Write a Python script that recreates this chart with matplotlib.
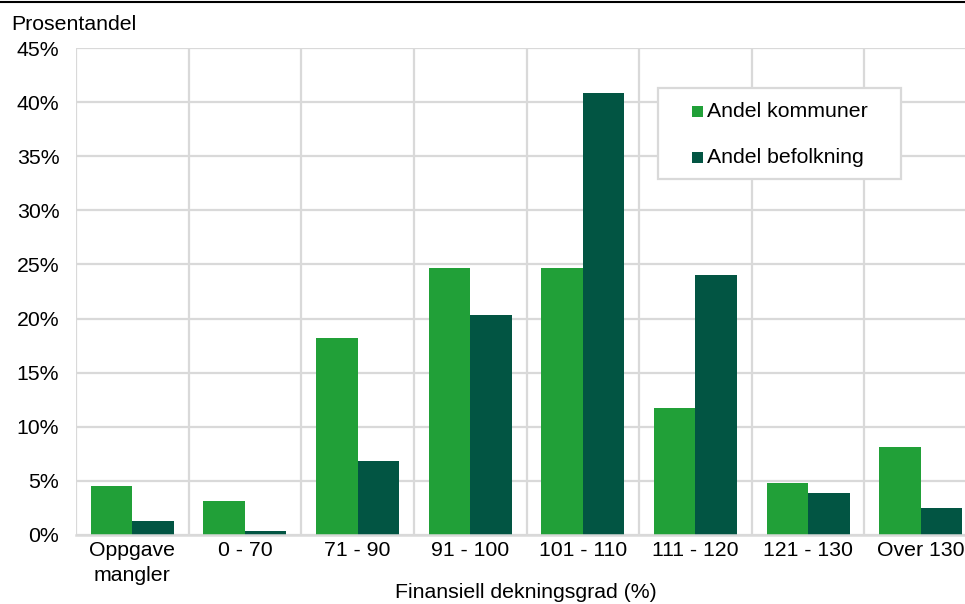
import matplotlib
matplotlib.use("Agg")
import matplotlib.pyplot as plt
from matplotlib.patches import Rectangle
from matplotlib.lines import Line2D
import numpy as np

plt.rcParams['font.family'] = ['Liberation Sans', 'DejaVu Sans']

categories = ["Oppgave\nmangler", "0 - 70", "71 - 90", "91 - 100", "101 - 110",
              "111 - 120", "121 - 130", "Over 130"]
andel_kommuner = [4.5, 3.1, 18.2, 24.7, 24.7, 11.7, 4.8, 8.1]
andel_befolkning = [1.27, 0.4, 6.8, 20.3, 40.8, 24.0, 3.85, 2.5]
series_labels = ["Andel kommuner", "Andel befolkning"]
yticks = [0, 5, 10, 15, 20, 25, 30, 35, 40, 45]

green = "#21a038"
dark = "#025543"
grid_c = "#d9d9d9"
fs = 15.3

W, H = 965, 604
fig = plt.figure(figsize=(W / 100, H / 100), dpi=100)
left, right, bottom, top = 76, 977, 535, 48
ax = fig.add_axes([left / W, 1 - bottom / H, (right - left) / W, (bottom - top) / H])

x = np.arange(len(categories))
bw = 0.368
series_colors = [green, dark]
for i, (vals, lab) in enumerate(zip([andel_kommuner, andel_befolkning], series_labels)):
    ax.bar(x + (i - 0.5) * bw, vals, width=bw, color=series_colors[i], zorder=3, label=lab)

ax.set_xlim(-0.5, len(categories) - 0.5)
ax.set_ylim(0, 45)
ax.set_yticks(yticks)
ax.set_yticklabels([f"{v}%" for v in yticks], fontsize=fs)
ax.set_xticks(x)
ax.set_xticklabels(categories, fontsize=fs)
for t in ax.get_xticklabels():
    t.set_linespacing(1.45)
ax.set_xticks(np.arange(-0.5, len(categories)), minor=True)
ax.tick_params(axis='both', which='both', length=0)
ax.tick_params(axis='y', pad=12)
ax.tick_params(axis='x', pad=4)

ax.grid(axis='y', which='major', color=grid_c, linewidth=1.6, zorder=0)
ax.grid(axis='x', which='minor', color=grid_c, linewidth=1.6, zorder=0)
for s in ['top', 'right', 'left']:
    ax.spines[s].set_visible(False)
ax.spines['bottom'].set_color(grid_c)
ax.spines['bottom'].set_linewidth(1.8)
ax.spines['bottom'].set_zorder(4)

def fx(px):
    return px / W

def fy(py):
    return 1 - py / H

fig.text(fx(11), fy(24), "Prosentandel", fontsize=fs, va='center', ha='left')
fig.text(fx(526), fy(592), "Finansiell dekningsgrad (%)", fontsize=fs, va='center', ha='center')

# legend box drawn in figure pixel coordinates
fig.add_artist(Rectangle((fx(658), fy(179)), fx(901) - fx(658), fy(88) - fy(179),
                         transform=fig.transFigure, facecolor='white',
                         edgecolor=grid_c, linewidth=1.6, zorder=5))
for lab, col, base in zip(series_labels, series_colors, [117, 163]):
    fig.add_artist(Rectangle((fx(692), fy(base)), fx(703) - fx(692), fy(base - 11) - fy(base),
                             transform=fig.transFigure, facecolor=col, edgecolor='none', zorder=6))
    fig.text(fx(707), fy(base), lab, fontsize=fs, va='baseline', ha='left', zorder=6)

fig.add_artist(Line2D([0, 1], [fy(1.5), fy(1.5)], transform=fig.transFigure,
                      color='black', linewidth=1.5))

fig.savefig("out.png", dpi=100)
